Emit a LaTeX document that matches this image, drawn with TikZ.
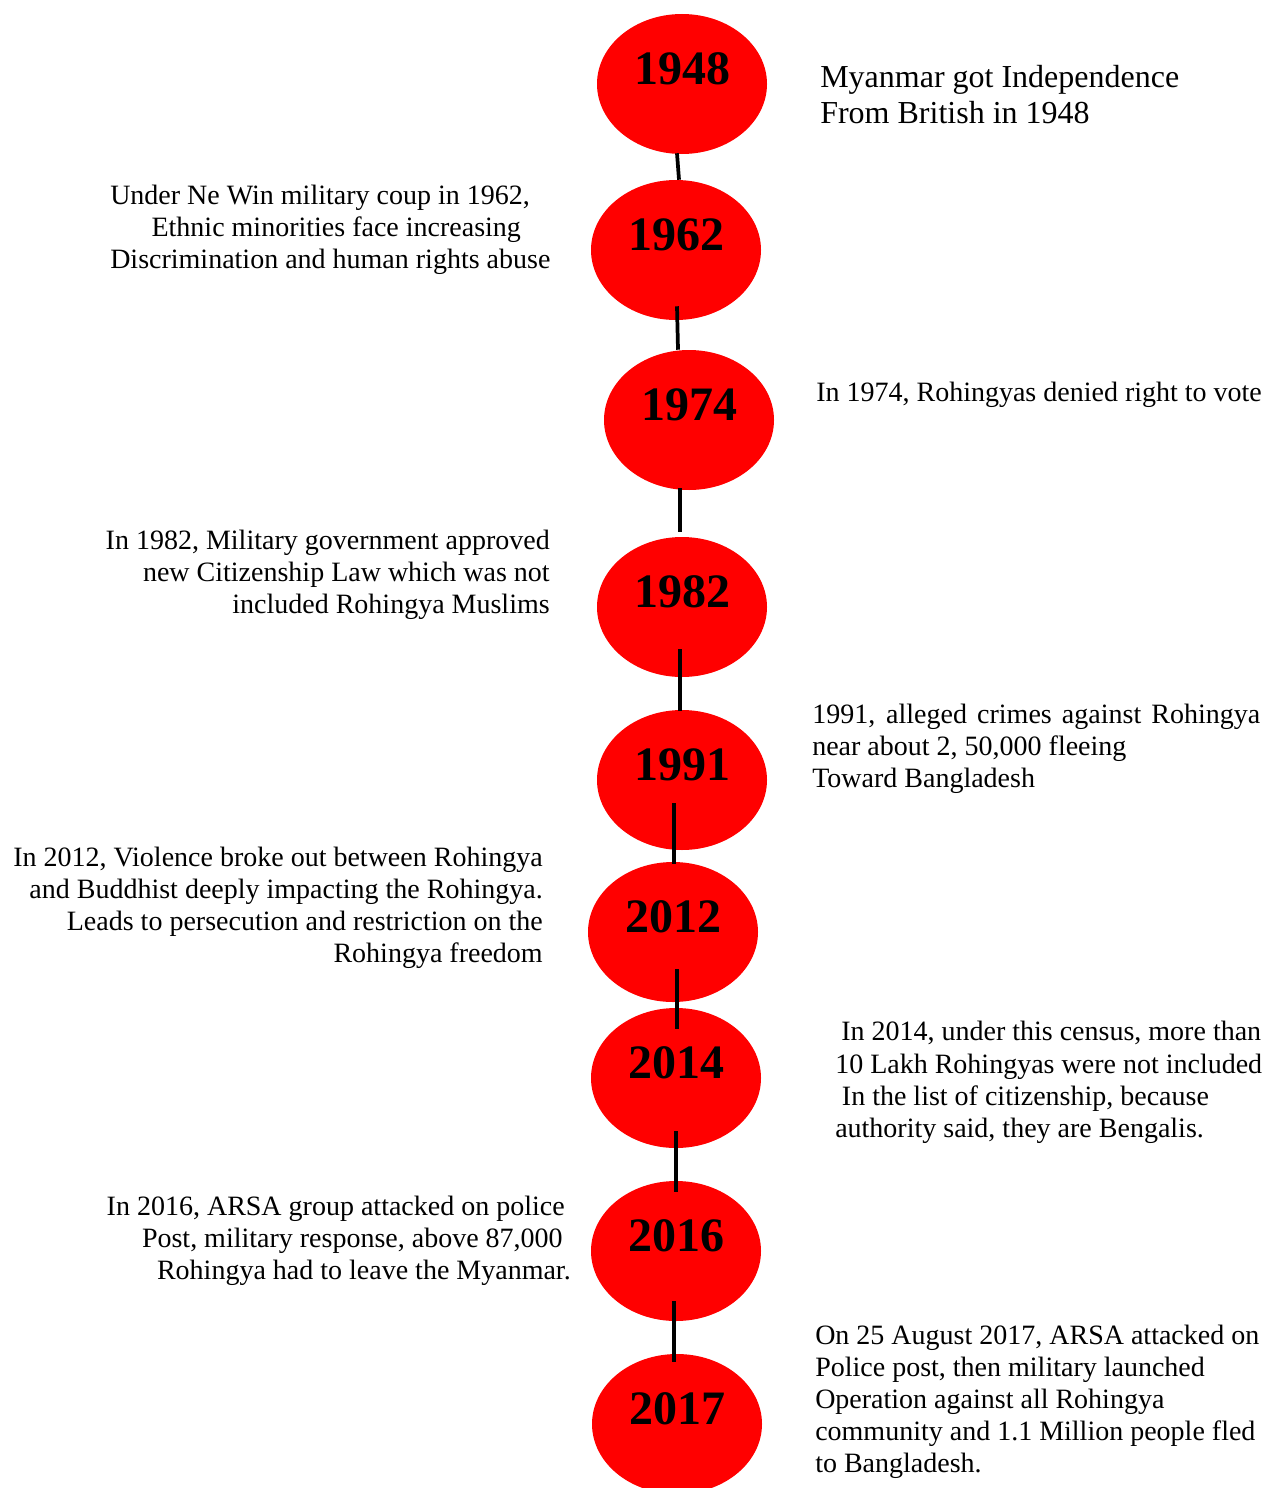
\documentclass[tikz,border=0pt]{standalone}
\usepackage{fontspec}
\setmainfont{Liberation Serif}
\usepackage{xcolor}
\usepackage{tikz}
\usetikzlibrary{shapes.geometric}
\definecolor{bubble}{HTML}{FF0000}
\definecolor{ink}{HTML}{000000}
\tikzset{
  dot/.style={ellipse, fill=bubble, inner sep=0pt, minimum width=127.5pt, minimum height=105pt},
  yearlab/.style={text=ink, font=\fontsize{36}{40}\selectfont\bfseries, inner sep=0pt},
  link/.style={draw=ink, line width=2.8pt},
  note/.style={text=ink, font=\fontsize{21}{24}\selectfont, inner sep=0pt, align=left},
  noter/.style={note, align=right},
  notebig/.style={note, font=\fontsize{24}{27}\selectfont},
}
\begin{document}
\begin{tikzpicture}[x=0.75pt, y=-0.75pt]
  \useasboundingbox (0,0) rectangle (1265,1488);
  \foreach \yr/\x/\y in {1948/682/84, 1962/676/250, 1974/689/420, 1982/682/607, 1991/682/780,
                         2012/673/932, 2014/676/1078, 2016/676/1251, 2017/677/1424}
    \node[dot] (e\yr) at (\x,\y) {};
  \foreach \a/\b/\ax/\ay/\bx/\by in {1948/1962/-5/-1/3/0, 1962/1974/1/-14/-11/0,
                                     1974/1982/-9/-2/-2/-5, 1982/1991/-2/-28/-2/1,
                                     1991/2012/-8/-47/1/2, 2012/2014/4/-33/1/21,
                                     2014/2016/0/-17/0/11, 2016/2017/-2/-20/-3/8}
    \draw[link] ([shift={(\ax,\ay)}]e\a.south) -- ([shift={(\bx,\by)}]e\b.north);
  \foreach \yr in {1948,1962,1974,1982,1991,2012,2014,2016,2017}
    \node[yearlab] (t\yr) at ([shift={(0,-15)}]e\yr.center) {\yr};
  \node[notebig, anchor=north west] (n1948) at (820,65)
    {Myanmar got Independence\\From British in 1948};
  \node[note, anchor=north west] (n1962) at (110,185)
    {Under Ne Win military coup in 1962,\\\hspace*{31pt}Ethnic minorities face increasing\\Discrimination and human rights abuse};
  \node[note, anchor=north west] (n1974) at (816,382)
    {In 1974, Rohingyas denied right to vote};
  \node[noter, anchor=north east] (n1982) at (550,530)
    {In 1982, Military government approved\\new Citizenship Law which was not\\included Rohingya Muslims};
  \node[note, anchor=north west] (n1991) at (812,704)
    {\makebox[336pt][s]{1991, alleged crimes against Rohingya}\\near about 2, 50,000 fleeing\\Toward Bangladesh};
  \node[noter, anchor=north east] (n2012) at (543,847)
    {In 2012, Violence broke out between Rohingya\\and Buddhist deeply impacting the Rohingya.\\Leads to persecution and restriction on the\\Rohingya freedom};
  \node[note, anchor=north west, font=\fontsize{21}{24.3}\selectfont] (n2014) at (835,1021)
    {\hspace*{4.5pt}In 2014, under this census, more than\\10 Lakh Rohingyas were not included\\\hspace*{5pt}In the list of citizenship, because\\authority said, they are Bengalis.};
  \node[noter, anchor=north east] (n2016) at (571,1196)
    {In 2016, ARSA group attacked on police\hspace*{4.5pt}\mbox{}\\Post, military response, above 87,000\hspace*{6pt}\mbox{}\\Rohingya had to leave the Myanmar.};
  \node[note, anchor=north west] (n2017) at (815,1325)
    {On 25 August 2017, ARSA attacked on\\Police post, then military launched\\Operation against all Rohingya\\community and 1.1 Million people fled\\to Bangladesh.};
\end{tikzpicture}
\end{document}
